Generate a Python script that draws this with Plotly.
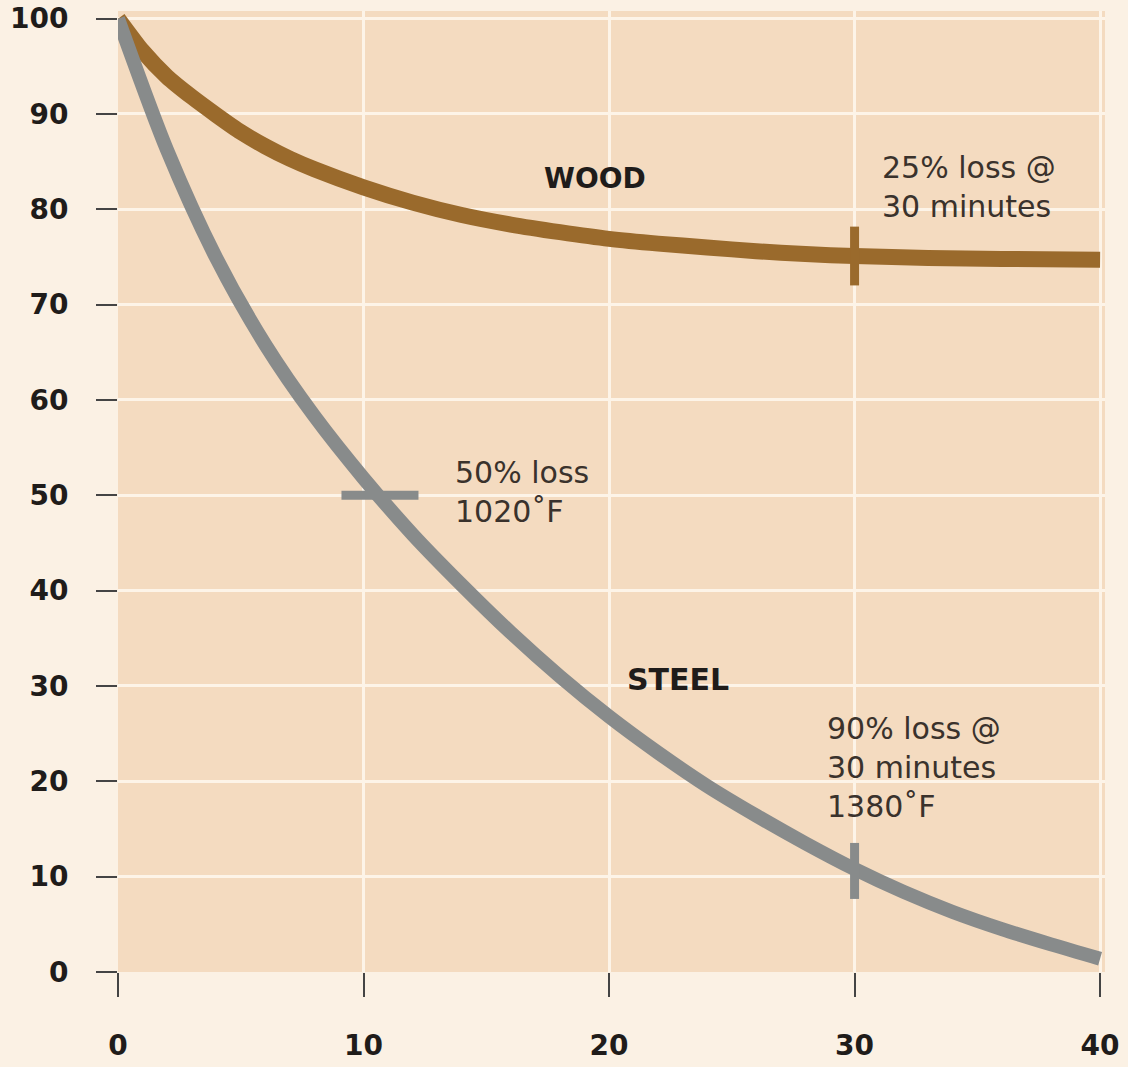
import plotly.graph_objects as go

# ---- data ----
wood_x = [0, 1, 2, 3, 4, 5, 6, 7, 8, 10, 12, 14, 16, 18, 20, 22, 24, 26, 28, 30, 33, 36, 40]
wood_y = [100, 96.6, 93.9, 91.8, 89.9, 88.1, 86.6, 85.3, 84.2, 82.3, 80.7, 79.4, 78.4, 77.6, 76.9, 76.4, 76.0, 75.6, 75.3, 75.1, 74.9, 74.8, 74.7]

steel_x = [0, 2, 4, 6, 8, 10, 12, 14, 16, 18, 20, 22, 24, 26, 28, 30, 32, 34, 36, 38, 40]
steel_y = [100, 86.2, 74.9, 65.8, 58.3, 51.8, 45.9, 40.6, 35.6, 31.0, 26.8, 23.0, 19.5, 16.4, 13.5, 10.8, 8.4, 6.3, 4.5, 2.9, 1.4]

wood_mark_x = [30]
wood_mark_y = [75.1]
steel_mark_v_x = [30]
steel_mark_v_y = [10.6]
steel_mark_h_x = [10.67]
steel_mark_h_y = [50]

x_ticks = [0, 10, 20, 30, 40]
y_ticks = [0, 10, 20, 30, 40, 50, 60, 70, 80, 90, 100]

WOOD = "#9a6a2c"
STEEL = "#888b8b"
TXT = "#3a322c"
LBL = "#1f1c1a"

fig = go.Figure()
fig.add_trace(go.Scatter(x=wood_x, y=wood_y, mode="lines",
                         line=dict(color=WOOD, width=16, shape="spline", smoothing=0.6),
                         hoverinfo="skip", showlegend=False))
fig.add_trace(go.Scatter(x=steel_x, y=steel_y, mode="lines",
                         line=dict(color=STEEL, width=14, shape="spline", smoothing=0.8),
                         hoverinfo="skip", showlegend=False))
fig.add_trace(go.Scatter(x=wood_mark_x, y=wood_mark_y, mode="markers",
                         marker=dict(symbol="line-ns", size=42, line=dict(color=WOOD, width=9)),
                         hoverinfo="skip", showlegend=False))
fig.add_trace(go.Scatter(x=steel_mark_v_x, y=steel_mark_v_y, mode="markers",
                         marker=dict(symbol="line-ns", size=40, line=dict(color=STEEL, width=9)),
                         hoverinfo="skip", showlegend=False))
fig.add_trace(go.Scatter(x=steel_mark_h_x, y=steel_mark_h_y, mode="markers",
                         marker=dict(symbol="line-ew", size=55, line=dict(color=STEEL, width=9)),
                         hoverinfo="skip", showlegend=False))

ann_font = dict(family="DejaVu Sans", size=30, color=TXT)

annotations = [
    dict(x=31.04, y=82.3, text="25% loss @<br>30 minutes", xanchor="left", yanchor="middle",
         align="left", showarrow=False, font=ann_font),
    dict(x=13.65, y=50.4, text="50% loss<br>1020˚F", xanchor="left", yanchor="middle",
         align="left", showarrow=False, font=ann_font),
    dict(x=28.8, y=21.4, text="90% loss @<br>30 minutes<br>1380˚F", xanchor="left", yanchor="middle",
         align="left", showarrow=False, font=ann_font),
    dict(x=19.43, y=83.2, text="<b>WOOD</b>", xanchor="center", yanchor="middle",
         showarrow=False, font=dict(family="DejaVu Sans", size=28, color=LBL)),
    dict(x=22.8, y=30.7, text="<b>STEEL</b>", xanchor="center", yanchor="middle",
         showarrow=False, font=dict(family="DejaVu Sans", size=30, color=LBL)),
]

tick_font = dict(family="DejaVu Sans", size=28, color=LBL, weight="bold")

fig.update_layout(
    width=1128, height=1067,
    margin=dict(l=118, r=23, t=11, b=95),
    paper_bgcolor="#fbf1e4",
    plot_bgcolor="#f4dbc0",
    annotations=annotations,
    showlegend=False,
    xaxis=dict(range=[0, 40.2], tickvals=x_ticks, ticktext=[str(v) for v in x_ticks],
               showgrid=True, gridcolor="#fdf4e8", gridwidth=3,
               zeroline=False, showline=False, automargin=False,
               ticks="outside", ticklen=24, tickwidth=2, tickcolor="#444444",
               tickfont=tick_font, ticklabelstandoff=24, fixedrange=True),
    yaxis=dict(range=[0, 100.8], tickvals=y_ticks, ticktext=[str(v) for v in y_ticks],
               showgrid=True, gridcolor="#fdf4e8", gridwidth=3,
               zeroline=False, showline=False, automargin=False,
               ticks="outside", ticklen=21, tickwidth=2, tickcolor="#444444",
               tickfont=tick_font, ticklabelstandoff=22, fixedrange=True),
)

fig.write_html(
    "out.html",
    config={"displayModeBar": False},
    post_script="document.body.style.margin='0';document.body.style.padding='0';"
                "document.body.style.background='#fbf1e4';document.body.style.overflow='hidden';",
)
